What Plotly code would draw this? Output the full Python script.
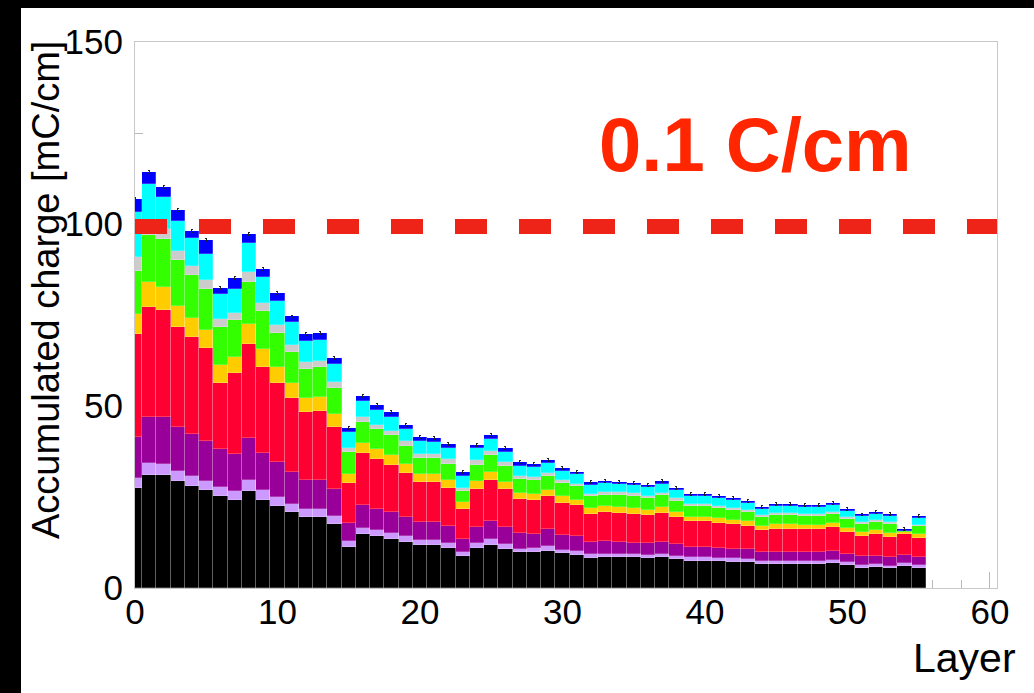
import plotly.graph_objects as go

# ---------------- data ----------------
layers = list(range(56))

black = [27.5, 31.1, 31.0, 29.3, 28.1, 26.8, 25.2, 24.3, 26.7, 24.3,
         22.4, 20.8, 19.4, 19.4, 17.7, 11.4, 14.8, 14.2, 13.6, 12.7,
         11.7, 11.7, 11.1, 8.7, 10.9, 11.9, 10.8, 9.8, 9.8, 10.3,
         9.6, 9.2, 8.3, 8.6, 8.5, 8.5, 8.2, 8.5, 7.9, 7.5,
         7.5, 7.3, 7.1, 7.1, 6.6, 6.7, 6.7, 6.6, 6.5, 6.9,
         6.2, 5.6, 5.8, 5.4, 6.1, 5.6]
lavender = [2.7, 3.2, 3.2, 2.9, 2.8, 2.7, 2.5, 2.4, 3.1, 2.7,
            2.6, 2.4, 2.3, 2.3, 2.0, 1.6, 1.7, 1.6, 1.5, 1.5,
            1.4, 1.4, 1.3, 1.3, 1.5, 1.6, 1.3, 1.0, 1.1, 1.3,
            0.9, 1.1, 1.0, 0.8, 0.9, 0.8, 1.0, 0.9, 1.0, 1.0,
            1.0, 1.0, 1.1, 0.9, 0.8, 0.8, 0.8, 0.8, 0.9, 0.7,
            0.9, 0.7, 0.7, 0.7, 0.8, 0.6]
purple = [11.2, 12.6, 12.7, 11.9, 11.5, 11.0, 10.5, 10.1, 11.3, 10.1,
          9.5, 8.8, 8.1, 8.1, 7.5, 4.9, 6.3, 6.0, 5.7, 5.3,
          4.9, 4.9, 4.6, 3.5, 4.4, 4.8, 4.7, 4.3, 4.0, 4.5,
          4.0, 3.9, 3.4, 3.4, 3.3, 3.2, 3.2, 3.3, 3.2, 2.8,
          2.8, 2.7, 2.6, 2.7, 2.5, 2.5, 2.5, 2.5, 2.5, 2.7,
          2.3, 2.4, 2.4, 2.4, 2.3, 2.3]
red = [28.5, 30.3, 29.6, 27.6, 26.5, 25.3, 18.1, 22.2, 26.0, 23.7,
       21.7, 20.1, 18.6, 18.9, 17.0, 10.9, 14.3, 13.6, 13.1, 12.1,
       11.0, 11.0, 10.4, 8.3, 10.4, 11.4, 10.3, 9.3, 9.2, 9.2,
       8.9, 8.5, 7.7, 8.1, 7.9, 7.9, 7.6, 8.0, 7.5, 7.0,
       7.0, 6.9, 6.8, 6.4, 6.1, 6.3, 6.3, 6.3, 6.2, 6.4,
       6.1, 5.7, 5.8, 5.5, 5.7, 5.2]
orange = [5.5, 6.8, 6.1, 5.9, 5.4, 5.2, 4.9, 4.6, 5.5, 4.9,
          4.4, 4.2, 3.9, 3.9, 3.6, 2.5, 2.7, 2.8, 2.6, 2.4,
          2.3, 2.3, 2.3, 1.7, 2.1, 2.3, 2.1, 1.8, 1.8, 1.7,
          1.8, 1.6, 1.6, 1.5, 1.7, 1.6, 1.5, 1.5, 1.4, 1.3,
          1.3, 1.2, 1.2, 1.2, 1.1, 1.2, 1.2, 1.1, 1.1, 1.2,
          1.1, 1.1, 1.1, 1.1, 0.6, 1.0]
green = [11.8, 13.1, 13.3, 12.4, 11.8, 11.2, 10.5, 10.0, 11.6, 10.3,
         9.4, 8.6, 7.9, 8.0, 7.1, 6.0, 5.9, 5.6, 5.4, 5.1,
         4.5, 4.5, 4.5, 3.2, 4.6, 4.6, 4.2, 3.8, 3.8, 3.8,
         3.6, 3.6, 3.2, 3.2, 3.2, 3.4, 3.1, 3.3, 3.0, 2.8,
         2.9, 2.9, 2.7, 2.7, 2.4, 2.6, 2.6, 2.6, 2.5, 2.4,
         2.4, 2.2, 2.4, 2.4, 0.1, 2.2]
gray = [3.6, 2.7, 2.7, 2.7, 2.5, 2.4, 2.2, 2.0, 2.6, 2.2,
        2.3, 1.9, 1.8, 1.8, 1.6, 1.3, 1.3, 1.1, 1.3, 1.2,
        1.1, 1.1, 1.2, 0.8, 1.4, 1.1, 1.1, 0.9, 0.9, 0.8,
        0.9, 0.8, 0.7, 0.8, 0.8, 0.7, 0.8, 0.7, 0.7, 0.7,
        0.6, 0.6, 0.6, 0.5, 0.5, 0.6, 0.6, 0.5, 0.5, 0.6,
        0.5, 0.5, 0.5, 0.5, 0.0, 0.5]
cyan = [12.5, 11.3, 8.7, 8.0, 7.6, 7.2, 7.0, 6.6, 8.0, 7.2,
        6.5, 6.2, 5.8, 5.8, 5.1, 4.3, 4.3, 4.1, 3.8, 3.5,
        3.4, 3.3, 3.2, 3.2, 3.1, 3.3, 3.0, 2.7, 2.6, 2.7,
        2.5, 2.5, 2.5, 2.4, 2.3, 2.2, 2.3, 2.5, 2.1, 2.1,
        2.1, 2.1, 2.0, 1.9, 1.7, 1.8, 1.8, 1.9, 2.0, 1.9,
        1.7, 1.5, 1.7, 1.7, 0.1, 1.7]
blue = [3.7, 3.1, 2.9, 3.2, 2.0, 3.7, 1.5, 3.0, 2.5, 2.2,
        2.2, 1.6, 2.0, 1.8, 1.6, 1.0, 1.4, 1.3, 1.3, 0.9,
        1.2, 1.0, 1.0, 1.1, 0.9, 1.1, 1.0, 0.9, 0.9, 0.9,
        0.8, 0.7, 0.6, 0.7, 0.6, 0.6, 0.7, 0.6, 0.7, 0.6,
        0.6, 0.7, 0.6, 0.6, 0.6, 0.6, 0.6, 0.6, 0.5, 0.6,
        0.5, 0.5, 0.6, 0.7, 0.5, 0.6]

series_names = ["c1", "c2", "c3", "c4", "c5", "c6", "c7", "c8", "c9"]
series_values = [black, lavender, purple, red, orange, green, gray, cyan, blue]
series_colors = ["#000000", "#CC99FF", "#990099", "#FF0033", "#FFCC00",
                 "#33FF00", "#CCCCCC", "#00FFFF", "#0000FF"]

x_ticks = [0, 10, 20, 30, 40, 50, 60]
y_ticks = [0, 50, 100, 150]
threshold_line = 99.3
threshold_text = "0.1 C/cm"

# ---------------- geometry ----------------
W, H = 1034, 693
PL, PR, PT, PB = 135, 997, 42, 588
pw, ph = PR - PL, PB - PT


def px_x(p):
    return (p - PL) / pw


def px_y(p):
    return (PB - p) / ph


FONT = "Liberation Sans, Arial, Helvetica, sans-serif"

fig = go.Figure()
for i, (nm, vals, col) in enumerate(zip(series_names, series_values, series_colors)):
    kw = {}
    if i == len(series_values) - 1:
        kw["error_y"] = dict(type="constant", value=0.4, color="#222222",
                             thickness=1, width=1)
    fig.add_bar(x=layers, y=vals, name=nm, width=1, marker_color=col,
                marker_line=dict(width=0.6, color="rgba(255,255,255,0.35)"),
                **kw)

axis_common = dict(
    showline=True, mirror=True, linecolor="#c8c8c8", linewidth=1,
    ticks="inside", tickcolor="#b8b8b8", ticklen=16, tickwidth=1,
    showgrid=False, zeroline=False, layer="below traces",
    tickfont=dict(family=FONT, size=35, color="black"),
)

fig.update_layout(
    width=W, height=H,
    margin=dict(l=PL, r=W - PR, t=PT, b=H - PB, pad=0),
    paper_bgcolor="white", plot_bgcolor="white",
    barmode="stack", bargap=0, showlegend=False,
    xaxis=dict(range=[0, 60.5], tickvals=x_ticks, ticklabelstandoff=-7,
               minor=dict(dtick=2, ticklen=8, ticks="inside",
                          tickcolor="#b8b8b8", showgrid=False),
               **axis_common),
    yaxis=dict(range=[0, 150], tickvals=y_ticks, ticklabelstandoff=4,
               minor=dict(dtick=25, ticklen=8, ticks="inside",
                          tickcolor="#b8b8b8", showgrid=False),
               **axis_common),
)

# threshold dashed line
fig.add_shape(type="line", xref="x", yref="y", x0=0, x1=60.5,
              y0=threshold_line, y1=threshold_line,
              line=dict(color="#EE2418", width=15, dash="32px,32px"))

# black strips at left and top of the picture
fig.add_shape(type="rect", xref="paper", yref="paper",
              x0=px_x(0), x1=px_x(21), y0=px_y(H), y1=px_y(0),
              fillcolor="black", line_width=0, layer="above")
fig.add_shape(type="rect", xref="paper", yref="paper",
              x0=px_x(0), x1=px_x(W), y0=px_y(8), y1=px_y(0),
              fillcolor="black", line_width=0, layer="above")

# texts
fig.add_annotation(text=threshold_text, xref="paper", yref="paper",
                   x=px_x(755), y=px_y(144), xanchor="center", yanchor="middle",
                   showarrow=False,
                   font=dict(family=FONT, size=76, color="#FF2600", weight="bold"))
fig.add_annotation(text="Accumulated charge [mC/cm]", xref="paper", yref="paper",
                   x=px_x(46), y=px_y(290), xanchor="center", yanchor="middle",
                   textangle=-90, showarrow=False,
                   font=dict(family=FONT, size=38, color="black"))
fig.add_annotation(text="Layer", xref="paper", yref="paper",
                   x=px_x(1018), y=px_y(658), xanchor="right", yanchor="middle",
                   showarrow=False,
                   font=dict(family=FONT, size=41, color="black"))

fig.write_html("out.html")
